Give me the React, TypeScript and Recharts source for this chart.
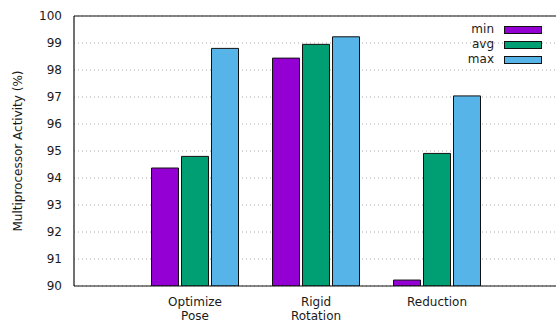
import React from 'react';
import { BarChart, Bar, XAxis, YAxis, CartesianGrid, Legend, ReferenceLine } from 'recharts';

// Kernel names (two-line labels split on "\n")
const categories = ['Optimize\nPose', 'Rigid\nRotation', 'Reduction'];
// Multiprocessor activity in percent
const minValues = [94.37, 98.44, 90.22];
const avgValues = [94.8, 98.95, 94.91];
const maxValues = [98.8, 99.23, 97.04];
const yTicks = [90, 91, 92, 93, 94, 95, 96, 97, 98, 99, 100];

const series = [
  { key: 'min', color: '#9400D3' },
  { key: 'avg', color: '#009E73' },
  { key: 'max', color: '#56B4E9' },
];

const data = categories.map((name, i) => ({
  name,
  min: minValues[i],
  avg: avgValues[i],
  max: maxValues[i],
}));

const FONT = 'DejaVu Sans, sans-serif';
const TEXT = '#1a1a1a';

const CategoryTick = (props: any) => {
  const { x, y, payload } = props;
  const lines = String(payload.value).split('\n');
  return (
    <text x={x} y={y} textAnchor="middle" fontFamily={FONT} fontSize={12} fill={TEXT}>
      {lines.map((line, i) => (
        <tspan key={i} x={x} dy={i === 0 ? 12 : 14}>
          {line}
        </tspan>
      ))}
    </text>
  );
};

const LegendBox = () => (
  <div style={{ fontFamily: FONT, fontSize: 12, color: TEXT }}>
    {series.map((s) => (
      <div
        key={s.key}
        style={{ display: 'flex', alignItems: 'center', justifyContent: 'flex-end', height: 15, lineHeight: '15px' }}
      >
        <span>{s.key}</span>
        <span
          style={{
            display: 'inline-block',
            marginLeft: 10,
            width: 36,
            height: 6,
            background: s.color,
            border: '1px solid #111',
          }}
        />
      </div>
    ))}
  </div>
);

export default function App() {
  return (
    <div style={{ position: 'absolute', left: 0, top: 0, width: 556, height: 322, overflow: 'hidden', background: '#fff' }}>
      <BarChart
        width={558}
        height={322}
        data={data}
        margin={{ top: 16, right: 0, bottom: 0, left: 0 }}
        barSize={27}
        barGap={3}
      >
        <CartesianGrid vertical={false} stroke="#aaa" strokeDasharray="1 3" />
        <XAxis
          dataKey="name"
          height={36}
          padding={{ left: 60.5, right: 60.5 }}
          axisLine={{ stroke: '#111', strokeWidth: 1.2 }}
          tickLine={false}
          tick={<CategoryTick />}
          interval={0}
        />
        <YAxis
          width={74}
          domain={[90, 100]}
          ticks={yTicks}
          allowDataOverflow
          axisLine={{ stroke: '#111', strokeWidth: 1.2 }}
          tickLine={false}
          tickMargin={6}
          tick={{ fontFamily: FONT, fontSize: 12, fill: TEXT }}
          label={{
            value: 'Multiprocessor Activity (%)',
            angle: -90,
            position: 'insideLeft',
            offset: 18,
            style: { textAnchor: 'middle', fontFamily: FONT, fontSize: 12, fill: TEXT },
          }}
        />
        <ReferenceLine y={100} stroke="#111" strokeWidth={1.2} ifOverflow="extendDomain" />
        <Legend
          layout="vertical"
          align="center"
          verticalAlign="middle"
          content={<LegendBox />}
          wrapperStyle={{ top: 22, right: 16, left: 'auto', bottom: 'auto', width: 'auto' }}
        />
        {series.map((s) => (
          <Bar
            key={s.key}
            dataKey={s.key}
            fill={s.color}
            stroke="#111"
            strokeWidth={1}
            isAnimationActive={false}
          />
        ))}
      </BarChart>
    </div>
  );
}
